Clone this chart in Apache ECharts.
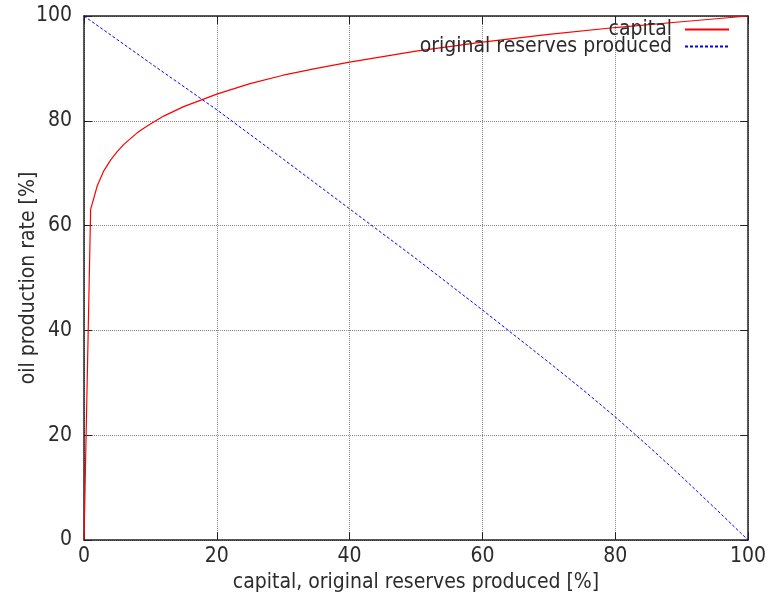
<!DOCTYPE html>
<html>
<head>
<meta charset="utf-8">
<script src="https://cdn.jsdelivr.net/npm/echarts@6/dist/echarts.min.js"></script>
<style>
  html, body { margin: 0; padding: 0; background: #fff; }
  #Chart { width: 770px; height: 599px; }
</style>
</head>
<body>
<div id="Chart"></div>
<script>
var fontName = '"DejaVu Sans Condensed", "Liberation Sans Narrow", "DejaVu Sans", sans-serif';
var textColor = '#2b2b2b';
var gridColor = '#8a8a8a';

// 数据
var capitalX = [0, 1, 2, 3, 4, 5, 6, 7, 8, 9, 10, 12, 15, 20, 25, 30, 35, 40, 50, 60, 70, 80, 90, 100];
var capitalY = [0, 63.1, 67.6, 70.5, 72.5, 74.1, 75.5, 76.6, 77.7, 78.6, 79.4, 80.9, 82.7, 85.1, 87.1, 88.7, 90.0, 91.2, 93.3, 95.0, 96.5, 97.8, 98.9, 100];
var reservesX = [0, 10, 20, 30, 40, 50, 60, 70, 75, 80, 85, 90, 95, 100];
var reservesY = [100, 91.0, 82.1, 72.7, 63.2, 53.7, 43.9, 33.9, 28.8, 23.5, 17.9, 12.1, 6.1, 0];
var axisTicks = [0, 20, 40, 60, 80, 100];

function pairs(xs, ys) {
    var out = [];
    for (var i = 0; i < xs.length; i++) out.push([xs[i], ys[i]]);
    return out;
}

var Chart = function () {
    var myChart = echarts.init(document.getElementById('Chart'));

    var labelStyle = { color: textColor, fontSize: 21, fontFamily: fontName };
    var baseAxis = function (pos, showLabel, showSplit, margin) {
        return {
            type: 'value',
            position: pos,
            min: axisTicks[0],
            max: axisTicks[axisTicks.length - 1],
            interval: 20,
            axisLine: { show: true, onZero: false, lineStyle: { color: '#222', width: 1.5 } },
            axisTick: { show: true, inside: true, length: 8, lineStyle: { color: '#222', width: 1 } },
            axisLabel: Object.assign({ show: showLabel, margin: margin || 8 }, labelStyle),
            splitLine: { show: showSplit, lineStyle: { color: gridColor, type: [1, 1], width: 1 } }
        };
    };

    var xBottom = baseAxis('bottom', true, true, 6);
    xBottom.name = 'capital, original reserves produced [%]';
    xBottom.nameLocation = 'middle';
    xBottom.nameGap = 32;
    xBottom.nameMoveOverlap = false;
    xBottom.nameTextStyle = labelStyle;
    var xTop = baseAxis('top', false, false);

    var yLeft = baseAxis('left', true, true, 12);
    yLeft.name = 'oil production rate [%]';
    yLeft.nameLocation = 'middle';
    yLeft.nameGap = 45;
    yLeft.nameMoveOverlap = false;
    yLeft.nameTextStyle = labelStyle;
    var yRight = baseAxis('right', false, false);

    var legendText = { color: textColor, fontSize: 21, fontFamily: fontName, padding: [0, 8, 0, 0] };

    var option = {
        backgroundColor: '#fff',
        animation: false,
        grid: { left: 84, right: 22, top: 16, bottom: 59, containLabel: false, outerBoundsMode: 'none' },
        legend: [
            {
                data: ['capital'], right: 40, top: 19, align: 'right',
                itemWidth: 44, itemHeight: 12, itemGap: 0, padding: 0,
                itemStyle: { opacity: 0 },
                textStyle: legendText
            },
            {
                data: ['original reserves produced'], right: 40, top: 36, align: 'right',
                itemWidth: 44, itemHeight: 12, itemGap: 0, padding: 0,
                itemStyle: { opacity: 0 },
                textStyle: legendText
            }
        ],
        xAxis: [xBottom, xTop],
        yAxis: [yLeft, yRight],
        series: [
            {
                name: 'capital',
                type: 'line',
                xAxisIndex: 0, yAxisIndex: 0,
                showSymbol: false, symbol: 'none',
                smooth: false,
                lineStyle: { color: '#ff0000', width: 1.2 },
                itemStyle: { color: '#ff0000' },
                data: pairs(capitalX, capitalY)
            },
            {
                name: 'original reserves produced',
                type: 'line',
                xAxisIndex: 0, yAxisIndex: 0,
                showSymbol: false, symbol: 'none',
                smooth: false,
                lineStyle: { color: '#0000ff', width: 1, type: [3, 2] },
                itemStyle: { color: '#0000ff' },
                data: pairs(reservesX, reservesY)
            }
        ]
    };
    myChart.setOption(option);
};

Chart();
</script>
</body>
</html>
